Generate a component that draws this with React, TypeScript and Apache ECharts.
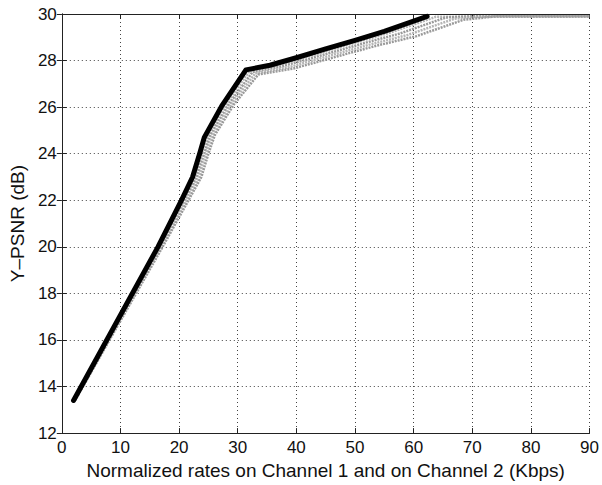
import React, { useEffect, useRef } from "react";
import * as echarts from "echarts";

const xTicks = [0, 10, 20, 30, 40, 50, 60, 70, 80, 90];
const yTicks = [12, 14, 16, 18, 20, 22, 24, 26, 28, 30];

const blackCurve: [number, number][] = [
  [2, 13.4], [16.4, 20], [20.4, 22], [22.3, 23], [23.5, 24],
  [24.3, 24.7], [27.4, 26.1], [31.4, 27.6], [35.5, 27.8], [40, 28.12], [45, 28.5],
  [50, 28.87], [55, 29.25], [62.3, 29.9],
];

const grayCurve1: [number, number][] = [
  [2.1, 13.4], [16.6, 20], [20.7, 22], [22.7, 23], [23.9, 24],
  [24.9, 24.8], [27.9, 26.1], [32, 27.55], [36.5, 27.78], [41, 28.1], [46, 28.47],
  [51, 28.84], [56, 29.2], [63.8, 29.88], [90, 29.9],
];
const grayCurve2: [number, number][] = [
  [2.15, 13.4], [16.8, 20], [21.0, 22], [23.0, 23], [24.3, 24],
  [25.3, 24.8], [28.4, 26.1], [32.5, 27.5], [37.5, 27.75], [42, 28.06], [47, 28.42],
  [52, 28.78], [57.5, 29.15], [65.5, 29.85], [70, 29.9], [90, 29.9],
];
const grayCurve3: [number, number][] = [
  [2.2, 13.4], [17.0, 20], [21.3, 22], [23.4, 23], [24.6, 24],
  [25.7, 24.8], [28.8, 26.1], [33, 27.45], [38.5, 27.7], [43, 28.02], [48, 28.37],
  [53, 28.72], [59, 29.1], [67, 29.8], [72, 29.9], [90, 29.9],
];
const grayCurve4: [number, number][] = [
  [2.25, 13.4], [17.2, 20], [21.6, 22], [23.8, 23], [25.0, 24],
  [26.1, 24.8], [29.3, 26.1], [33.5, 27.4], [39.5, 27.66], [44, 27.97], [49, 28.32],
  [54, 28.66], [60.5, 29.05], [68.5, 29.75], [74, 29.9], [90, 29.9],
];

const grayCurves = [grayCurve1, grayCurve2, grayCurve3, grayCurve4];

const FONT = "'Liberation Sans', Arial, Helvetica, sans-serif";

export default function App() {
  const ref = useRef<HTMLDivElement>(null);
  useEffect(() => {
    if (!ref.current) return;
    const chart = echarts.init(ref.current, undefined, { renderer: "svg" });
    const axisLine = { show: true, lineStyle: { color: "#222", width: 1 } };
    const axisTick = { show: true, inside: true, length: 5, lineStyle: { color: "#222", width: 1 } };
    const splitLine = { show: true, lineStyle: { color: "#444", type: [1, 3] as any, width: 1 } };
    chart.setOption({
      animation: false,
      backgroundColor: "#fff",
      grid: { left: 58, right: 9, top: 14, bottom: 50, containLabel: false },
      xAxis: [
        {
          type: "value",
          min: xTicks[0],
          max: xTicks[xTicks.length - 1],
          interval: 10,
          position: "bottom",
          name: "Normalized rates on Channel 1 and on Channel 2 (Kbps)",
          nameLocation: "middle",
          nameGap: 23,
          nameTextStyle: { fontFamily: FONT, fontSize: 19, color: "#111" },
          axisLine,
          axisTick,
          splitLine,
          axisLabel: { fontFamily: FONT, fontSize: 17, color: "#111", margin: 6 },
        },
        {
          type: "value",
          min: xTicks[0],
          max: xTicks[xTicks.length - 1],
          interval: 10,
          position: "top",
          axisLine,
          axisTick,
          splitLine: { show: false },
          axisLabel: { show: false },
        },
      ],
      yAxis: [
        {
          type: "value",
          min: yTicks[0],
          max: yTicks[yTicks.length - 1],
          interval: 2,
          position: "left",
          name: "Y\u2013PSNR (dB)",
          nameLocation: "middle",
          nameGap: 30,
          nameTextStyle: { fontFamily: FONT, fontSize: 19, color: "#111" },
          axisLine,
          axisTick,
          splitLine,
          axisLabel: { fontFamily: FONT, fontSize: 17, color: "#111", margin: 5 },
        },
        {
          type: "value",
          min: yTicks[0],
          max: yTicks[yTicks.length - 1],
          interval: 2,
          position: "right",
          axisLine,
          axisTick,
          splitLine: { show: false },
          axisLabel: { show: false },
        },
      ],
      series: [
        ...grayCurves.map((d, i) => ({
          type: "line",
          data: d,
          symbol: "none",
          z: 2 + i,
          lineStyle: { color: i % 2 ? "#9a9a9a" : "#b5b5b5", width: 2.5, type: [2, 1] as any },
        })),
        {
          type: "line",
          data: blackCurve,
          symbol: "none",
          z: 10,
          lineStyle: { color: "#000", width: 5, cap: "round", join: "round" },
        },
      ],
    });
    return () => chart.dispose();
  }, []);
  return (
    <div
      ref={ref}
      style={{ position: "fixed", left: 0, top: 0, width: 602, height: 485, background: "#fff" }}
    />
  );
}
